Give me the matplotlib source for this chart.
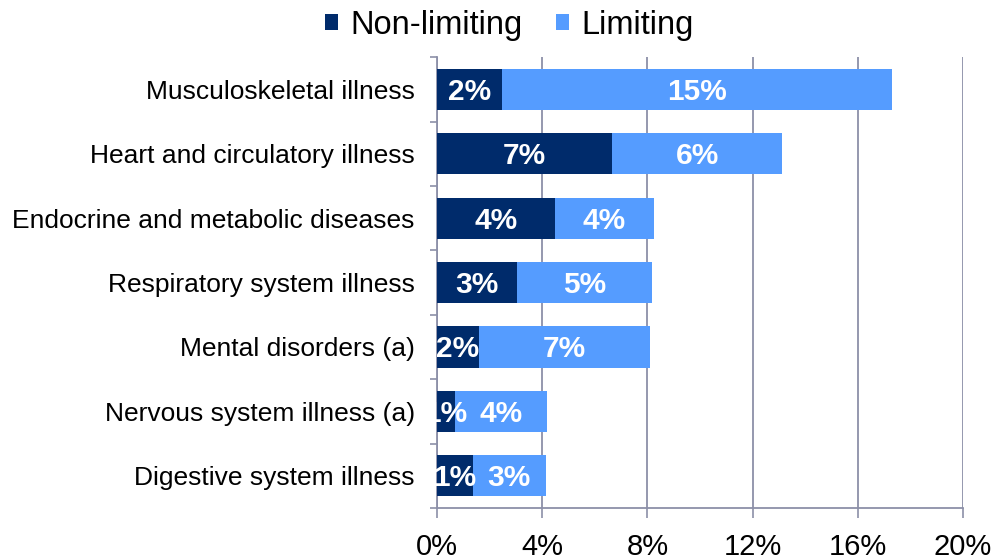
import matplotlib
matplotlib.use("Agg")
import matplotlib.pyplot as plt
import numpy as np

plt.rcParams['font.family'] = ['Liberation Sans', 'DejaVu Sans']

# illness groups, top to bottom
categories = ['Musculoskeletal illness', 'Heart and circulatory illness',
              'Endocrine and metabolic diseases', 'Respiratory system illness',
              'Mental disorders (a)', 'Nervous system illness (a)',
              'Digestive system illness']
non_limiting = [2.49, 6.67, 4.47, 3.04, 1.59, 0.68, 1.35]
limiting = [14.82, 6.45, 3.79, 5.13, 6.52, 3.52, 2.80]
xticks = [0, 4, 8, 12, 16, 20]

dark = '#002b6b'
light = '#559cff'
grid_col = '#8c90a8'

fig = plt.figure(figsize=(9.95, 5.6), dpi=100)
ax = fig.add_axes([0.4392, 0.093, 0.5286, 0.805])

y = np.arange(len(categories))
h = 0.64
b1 = ax.barh(y, non_limiting, height=h, color=dark, label='Non-limiting', zorder=3)
b2 = ax.barh(y, limiting, left=non_limiting, height=h, color=light, label='Limiting', zorder=3)

# value labels in the middle of each segment
for i in range(len(categories)):
    ax.text(non_limiting[i] / 2, y[i] + 0.04, f"{non_limiting[i]:.0f}%", ha='center',
            va='center', color='white', fontsize=21.5, fontweight='bold', zorder=4)
    ax.text(non_limiting[i] + limiting[i] / 2, y[i] + 0.04, f"{limiting[i]:.0f}%",
            ha='center', va='center', color='white', fontsize=21.5, fontweight='bold',
            zorder=4)

ax.set_xlim(0, 20)
ax.set_ylim(len(categories) - 0.5, -0.5)
ax.set_xticks(xticks)
ax.set_xticklabels([f"{t}%" for t in xticks], fontsize=21)
ax.set_yticks(y)
ax.set_yticklabels(categories, fontsize=19)
ax.set_yticks(np.arange(len(categories) + 1) - 0.5, minor=True)

ax.tick_params(axis='y', which='major', length=0, pad=16)
ax.tick_params(axis='y', which='minor', length=5, width=1.2, color=grid_col)
ax.tick_params(axis='x', length=7, width=1.2, color=grid_col, pad=11)

ax.grid(axis='x', color=grid_col, linewidth=1.3, zorder=0)
for side in ['top', 'right']:
    ax.spines[side].set_visible(False)
for side in ['left', 'bottom']:
    ax.spines[side].set_color(grid_col)
    ax.spines[side].set_linewidth(1.3)

fig.legend(handles=[b1, b2], loc='upper center', bbox_to_anchor=(0.512, 1.035), ncol=2,
           frameon=False, fontsize=23.5, handlelength=0.4, handleheight=0.4,
           handletextpad=0.4, columnspacing=1.0)

fig.savefig('out.png', dpi=100)
